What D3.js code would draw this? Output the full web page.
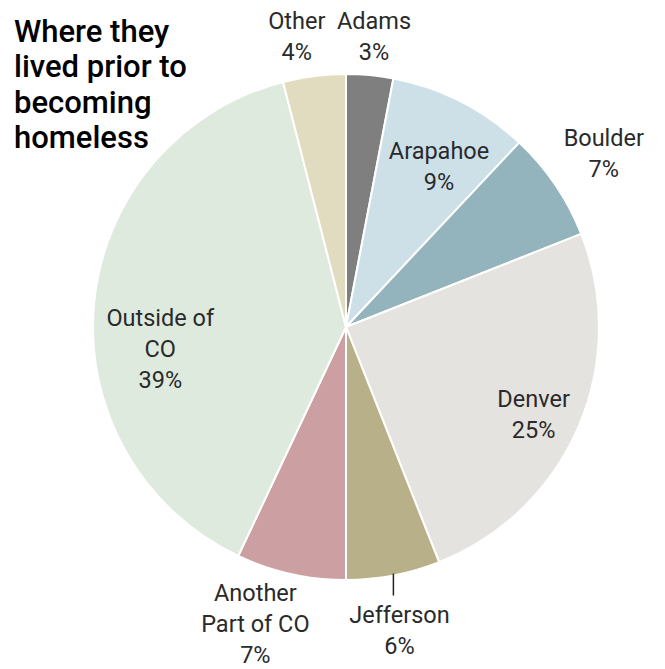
<!DOCTYPE html>
<html>
<head>
<meta charset="utf-8">
<script src="https://cdn.jsdelivr.net/npm/d3@7"></script>
<style>
  html, body { margin: 0; padding: 0; background: #fff; }
  svg { display: block; }
  text { font-family: Roboto, "Liberation Sans Narrow", sans-serif; }
</style>
</head>
<body>
<svg id="chart" width="665" height="669"></svg>
<script>
// Where people lived before becoming homeless (share, %)
const categories = ["Adams", "Arapahoe", "Boulder", "Denver", "Jefferson", "Another Part of CO", "Outside of CO", "Other"];
const values = [3, 9, 7, 25, 6, 7, 39, 4];
const labelLines = [["Adams"], ["Arapahoe"], ["Boulder"], ["Denver"], ["Jefferson"], ["Another", "Part of CO"], ["Outside of", "CO"], ["Other"]];
const colors = ["#7f7f7f", "#cde0e7", "#94b4bd", "#e4e3df", "#b8b088", "#cca0a2", "#dfeadf", "#e1dcbf"];
const titleLines = ["Where they", "lived prior to", "becoming", "homeless"];

const W = 665, H = 669;
const cx = 346, cy = 327, R = 253;

const svg = d3.select("#chart");

// label placement: [distance from centre, angle in degrees clockwise from 12 o'clock]
const labelPlace = {
  "Adams": [292, 5.5],
  "Arapahoe": [186, 30],
  "Boulder": [311, 56],
  "Denver": [207, 115],
  "Jefferson": [308, 170],
  "Another Part of CO": [310, 197],
  "Outside of CO": [187, 263.3],
  "Other": [295, 350.4]
};

const data = categories.map((c, i) => ({ name: c, value: values[i], lines: labelLines[i], color: colors[i] }));

const pie = d3.pie().sort(null).value(d => d.value);
const arcs = pie(data);
const arc = d3.arc().innerRadius(0).outerRadius(R);

const g = svg.append("g").attr("transform", `translate(${cx},${cy})`);

g.selectAll("path.slice")
  .data(arcs)
  .join("path")
  .attr("class", "slice")
  .attr("d", arc)
  .attr("fill", d => d.data.color)
  .attr("stroke", "#fff")
  .attr("stroke-width", 2)
  .attr("stroke-linejoin", "round");

// leader line for the Jefferson slice
const jeff = arcs.find(a => a.data.name === "Jefferson");
const jAng = (jeff.startAngle + jeff.endAngle) / 2;
g.append("line")
  .attr("x1", R * Math.sin(jAng)).attr("y1", -R * Math.cos(jAng) - 2)
  .attr("x2", R * Math.sin(jAng)).attr("y2", -R * Math.cos(jAng) + 20)
  .attr("stroke", "#222").attr("stroke-width", 1.5);

const lineH = 31;
g.selectAll("text.lbl")
  .data(arcs)
  .join("text")
  .attr("class", "lbl")
  .attr("text-anchor", "middle")
  .attr("font-size", 23.5)
  .attr("fill", "#2a2a2a")
  .each(function (d) {
    const [r, deg] = labelPlace[d.data.name];
    const a = deg * Math.PI / 180;
    const x = r * Math.sin(a), y = -r * Math.cos(a);
    const lines = d.data.lines.concat([d.data.value + "%"]);
    const top = y - (lines.length - 1) * lineH / 2;
    const t = d3.select(this);
    lines.forEach((ln, k) => {
      t.append("tspan")
        .attr("x", x)
        .attr("y", top + k * lineH)
        .attr("dy", "0.35em")
        .text(ln);
    });
  });

// title
const title = svg.append("text")
  .attr("x", 15)
  .attr("font-size", 31)
  .attr("font-weight", 500)
  .attr("fill", "#000");
titleLines.forEach((ln, k) => {
  title.append("tspan").attr("x", 14).attr("y", 31 + k * 35.5).attr("dy", "0.35em").text(ln);
});
</script>
</body>
</html>
